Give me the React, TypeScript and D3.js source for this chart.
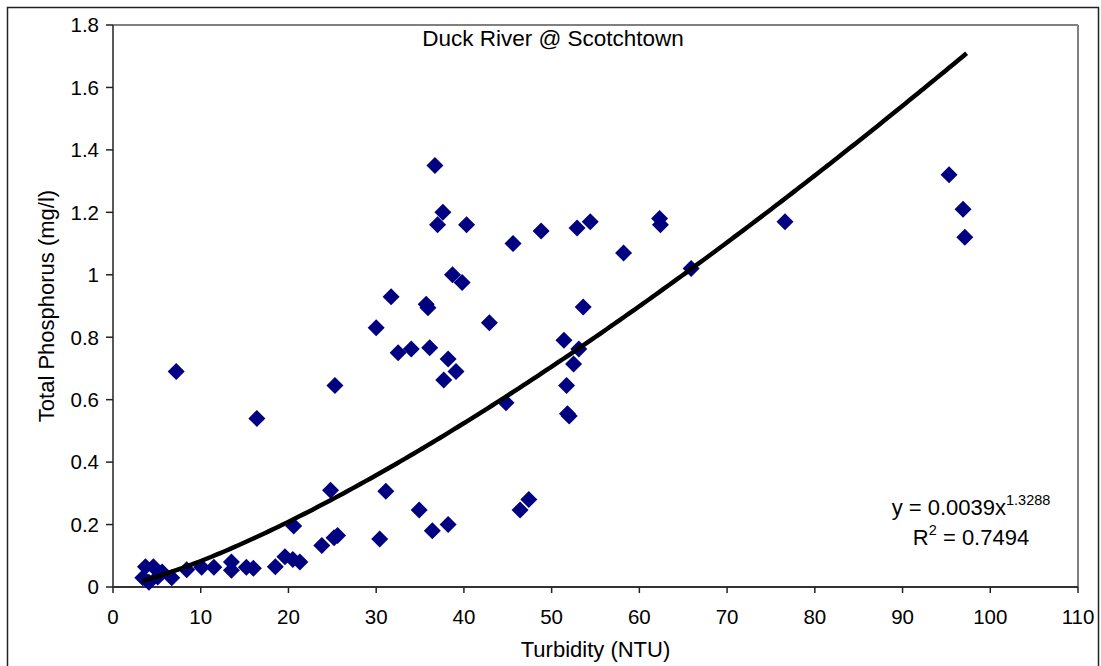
import React from 'react'
import * as d3 from 'd3'

// turbidity (NTU) / total phosphorus (mg/l)
const turbidity = [
  3.4, 3.7, 4.6, 4.1, 5.1, 5.6, 6.7, 8.4, 10.1, 11.5,
  13.5, 13.5, 15.2, 16.0, 18.5, 19.6, 20.5, 21.3, 20.6, 23.8,
  25.2, 25.6, 24.8, 30.4, 31.1, 34.9, 36.4, 38.2, 46.4, 47.4,
  7.2, 16.4, 25.3, 30.0, 31.7, 32.5, 34.0, 36.1, 35.7, 35.9,
  38.2, 39.1, 37.7, 38.7, 39.8, 42.9, 36.7, 37.6, 37.0, 40.3,
  45.6, 48.8, 52.9, 54.4, 62.3, 62.4, 58.2, 65.9, 76.6, 95.3,
  96.9, 97.1, 44.8, 51.4, 53.1, 52.5, 51.7, 51.8, 52.0, 53.6,
]
const phosphorus = [
  0.03, 0.065, 0.065, 0.015, 0.032, 0.048, 0.03, 0.055, 0.063, 0.063,
  0.08, 0.054, 0.063, 0.06, 0.065, 0.097, 0.088, 0.08, 0.195, 0.133,
  0.158, 0.165, 0.31, 0.154, 0.307, 0.247, 0.18, 0.2, 0.247, 0.28,
  0.69, 0.54, 0.645, 0.83, 0.93, 0.75, 0.762, 0.766, 0.906, 0.894,
  0.73, 0.69, 0.663, 1.0, 0.975, 0.846, 1.35, 1.2, 1.16, 1.16,
  1.1, 1.14, 1.15, 1.17, 1.18, 1.16, 1.07, 1.02, 1.17, 1.32,
  1.21, 1.12, 0.59, 0.79, 0.762, 0.714, 0.645, 0.555, 0.548, 0.897,
]

const xTicks = [0, 10, 20, 30, 40, 50, 60, 70, 80, 90, 100, 110]
const yTicks = [0, 0.2, 0.4, 0.6, 0.8, 1, 1.2, 1.4, 1.6, 1.8]

// power trendline from the chart label
const fitA = 0.0039
const fitB = 1.3288
const fitR2 = 0.7494
const fitRange = [3.3, 97.3]

const W = 1101
const H = 666
const left = 113
const right = 1078
const top = 25
const bottom = 587
const font = 'Liberation Sans, Arial, sans-serif'

function diamond(cx: number, cy: number, r: number) {
  return `M${cx},${cy - r}L${cx + r},${cy}L${cx},${cy + r}L${cx - r},${cy}Z`
}

export default function App() {
  const x = d3.scaleLinear().domain([0, 110]).range([left, right])
  const y = d3.scaleLinear().domain([0, 1.8]).range([bottom, top])

  const points = turbidity.map((t, i) => ({ t, p: phosphorus[i] }))

  const curveData = d3.range(fitRange[0], fitRange[1] + 0.01, 0.5).map((t) => [t, fitA * Math.pow(t, fitB)])
  const curve = d3.line<number[]>()
    .x((d) => x(d[0]))
    .y((d) => y(d[1]))
    .curve(d3.curveMonotoneX)(curveData)

  return (
    <svg width={W} height={H} style={{ position: 'absolute', left: 0, top: 0, background: '#fff' }} fontFamily={font}>
      {/* outer frame */}
      <rect x={7.5} y={7.5} width={1091} height={670} fill="none" stroke="#222" strokeWidth={1.5} />

      {/* plot area frame: gray top/right */}
      <line x1={left} x2={right} y1={top} y2={top} stroke="#808080" strokeWidth={2} />
      <line x1={right} x2={right} y1={top} y2={bottom} stroke="#808080" strokeWidth={2} />

      {/* y axis */}
      <line x1={left} x2={left} y1={top} y2={bottom} stroke="#222" strokeWidth={1.5} />
      {yTicks.map((v) => (
        <g key={v}>
          <line x1={left - 7} x2={left} y1={y(v)} y2={y(v)} stroke="#222" strokeWidth={1.5} />
          <text x={left - 14} y={y(v)} dy="0.36em" textAnchor="end" fontSize={20.5}>{v}</text>
        </g>
      ))}

      {/* x axis */}
      <line x1={left} x2={right} y1={bottom} y2={bottom} stroke="#333" strokeWidth={2} />
      {xTicks.map((v) => (
        <g key={v}>
          <line x1={x(v)} x2={x(v)} y1={bottom} y2={bottom + 6} stroke="#222" strokeWidth={1.5} />
          <text x={x(v)} y={624} textAnchor="middle" fontSize={20.5}>{v}</text>
        </g>
      ))}

      {/* points */}
      {points.map((d, i) => (
        <path key={i} d={diamond(x(d.t), y(d.p), 8.5)} fill="#000080" />
      ))}

      {/* trendline */}
      <path d={curve || ''} fill="none" stroke="#000" strokeWidth={4.5} />

      {/* texts */}
      <text x={553} y={46} textAnchor="middle" fontSize={22.5}>Duck River @ Scotchtown</text>
      <text x={(left + right) / 2} y={657} textAnchor="middle" fontSize={22}>Turbidity (NTU)</text>
      <text transform={`translate(54,${(top + bottom) / 2}) rotate(-90)`} textAnchor="middle" fontSize={22}>
        Total Phosphorus (mg/l)
      </text>

      <text x={971} y={515} textAnchor="middle" fontSize={22}>
        y = {fitA}x<tspan fontSize={14.5} dy={-10}>{fitB}</tspan>
      </text>
      <text x={971} y={545} textAnchor="middle" fontSize={22}>
        R<tspan fontSize={14.5} dy={-10}>2</tspan><tspan dy={10}> = {fitR2}</tspan>
      </text>
    </svg>
  )
}
